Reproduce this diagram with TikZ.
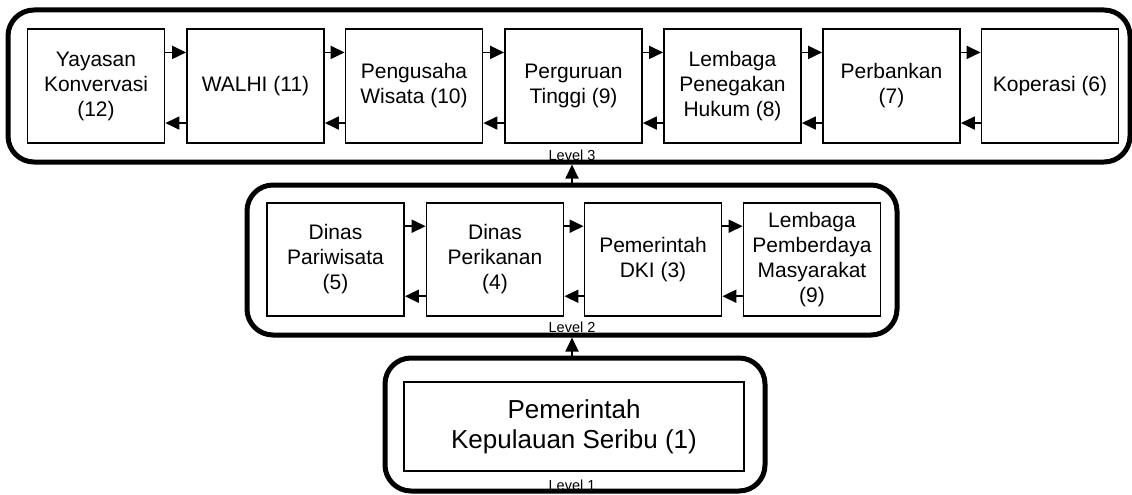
\documentclass[tikz,border=0pt]{standalone}
\usepackage{fontspec}
\setmainfont{Liberation Sans}
\usetikzlibrary{calc,arrows.meta}
\begin{document}
\begin{tikzpicture}[x=1pt,y=-1pt,
  frame/.style={draw,line width=5pt,rounded corners=26pt,inner sep=0pt,minimum width=#1},
  actor/.style={draw,line width=1.8pt,inner sep=0pt,minimum width=137pt,minimum height=114pt,
    align=center,font=\fontsize{21}{25}\selectfont},
  link/.style={line width=1.8pt,-{Triangle[length=14pt,width=13pt]}},
  lvl/.style={font=\fontsize{14.5}{16}\selectfont,inner sep=0pt}]
\useasboundingbox (0,0) rectangle (1132,495);

% Level 3 frame and actors
\node[frame=1122pt,minimum height=152pt] (F3) at (569,86) {};
\node[actor] (a12) at (96,86) {Yayasan\\Konvervasi\\(12)};
\node[actor] (a11) at (255.5,86) {WALHI (11)};
\node[actor] (a10) at (414,86) {Pengusaha\\Wisata (10)};
\node[actor] (a9)  at (573.5,86) {Perguruan\\Tinggi (9)};
\node[actor] (a8)  at (732.5,86) {Lembaga\\Penegakan\\Hukum (8)};
\node[actor] (a7)  at (891.5,86) {Perbankan\\(7)};
\node[actor] (a6)  at (1050,86) {Koperasi (6)};
\node[lvl] (L3) at (572,155) {Level 3};

% Level 2 frame and actors
\node[frame=650pt,minimum height=150pt] (F2) at (572,260) {};
\node[actor,minimum height=113pt] (a5) at (335.5,259.5) {Dinas\\Pariwisata\\(5)};
\node[actor,minimum height=113pt] (a4) at (495,259.5) {Dinas\\Perikanan\\(4)};
\node[actor,minimum height=113pt] (a3) at (653,259.5) {Pemerintah\\DKI (3)};
\node[actor,minimum height=113pt] (a2) at (812,259.5) {Lembaga\\Pemberdaya\\Masyarakat\\(9)};
\node[lvl] (L2) at (572,327) {Level 2};

% Level 1 frame and actor
\node[frame=380pt,minimum height=133pt] (F1) at (575,424.5) {};
\node[actor,minimum width=340pt,minimum height=89pt,font=\fontsize{26}{30}\selectfont] (a1) at (574,426.5) {Pemerintah\\Kepulauan Seribu (1)};
\node[lvl] (L1) at (572,485) {Level 1};

% two-way links between neighbouring actors
\foreach \l/\r in {a12/a11,a11/a10,a10/a9,a9/a8,a8/a7,a7/a6,a5/a4,a4/a3,a3/a2}{
  \draw[link] ($(\l.north east)!0.21!(\l.south east)$) -- ($(\r.north west)!0.21!(\r.south west)$);
  \draw[link] ($(\r.north west)!0.82!(\r.south west)$) -- ($(\l.north east)!0.82!(\l.south east)$);
}

% links between levels
\draw[link] (F2.north) -- (F2.north |- F3.south);
\draw[link] (F1.north -| F2.north) -- (F2.south);
\end{tikzpicture}
\end{document}
